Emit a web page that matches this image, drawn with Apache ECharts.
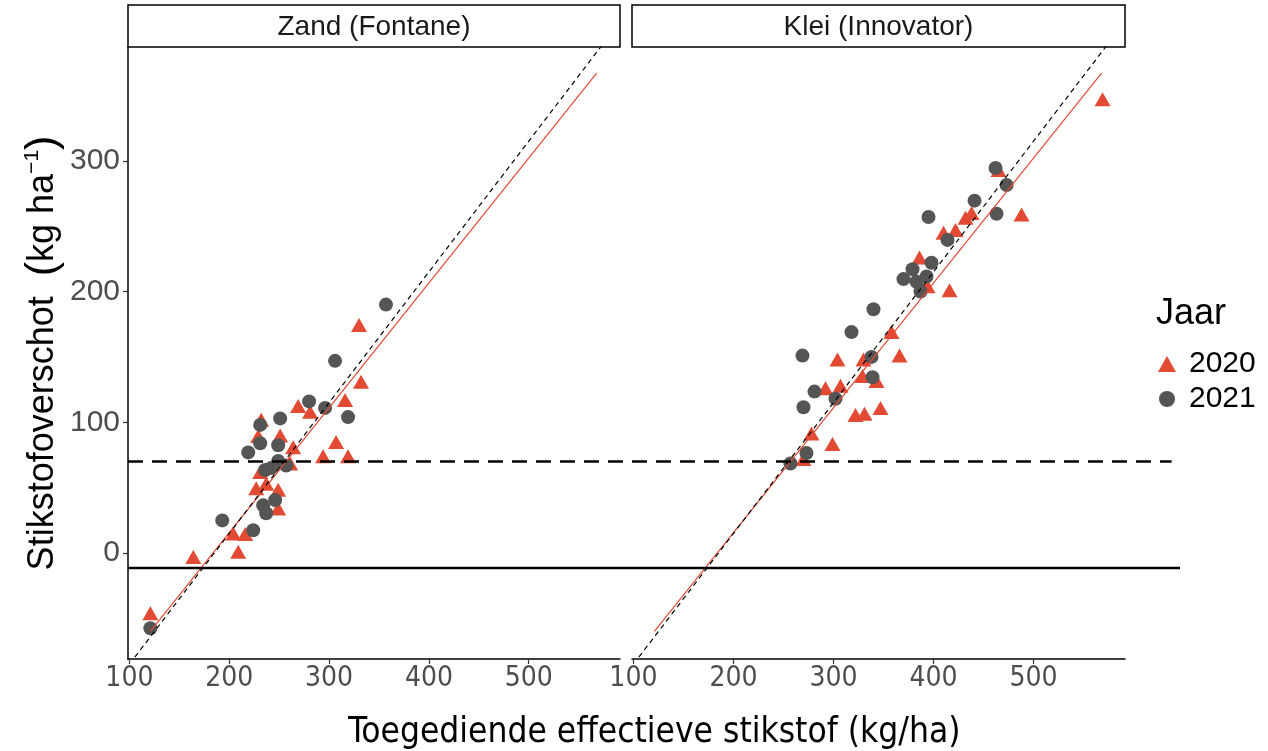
<!DOCTYPE html>
<html>
<head>
<meta charset="utf-8">
<script src="https://cdn.jsdelivr.net/npm/echarts@6/dist/echarts.min.js"></script>
<style>
  html, body { margin: 0; padding: 0; background: #fff; }
  #chart { width: 1268px; height: 751px; }
</style>
</head>
<body>
<div id="chart"></div>
<script>
// stikstofoverschot vs toegediende effectieve stikstof, per grondsoort en jaar

const panels = ['Zand (Fontane)', 'Klei (Innovator)'];
const years = ['2020', '2021'];
const xTicks = [100, 200, 300, 400, 500];
const yTicks = [0, 100, 200, 300];

// [toegediende N, overschot]
const zand2020 = [[121, -46], [164, -3], [209, 1], [204, 15], [216, 14.5], [227, 49.5], [237, 53], [249, 34],
	[249, 48.5], [231, 62], [261, 68.5], [264, 81], [229, 89.5], [251, 90], [232, 102], [269, 112.5],
	[281, 108], [294, 74], [307, 85], [316, 117], [319, 74], [332, 131], [330, 174.5]];
const zand2021 = [[121, -57.5], [193, 25], [224, 17.5], [234, 36.5], [237, 30.5], [246, 40.5], [236, 63.5],
	[242, 65], [249, 70.5], [257, 67], [219, 77], [231, 84], [249, 82.5], [231, 98], [251, 103], [280, 116],
	[296, 111], [306, 147], [319, 104], [357, 190]];
const klei2020 = [[569, 347], [465, 293], [488, 259], [432, 256.5], [438, 260], [410, 245], [422, 247],
	[386, 226], [394, 204], [416, 201], [358, 169], [366, 151], [304, 148], [330, 148], [329, 135.5],
	[343, 131.5], [292, 126], [307, 128], [322, 105.5], [331, 106.5], [347, 111], [278, 91.5], [299, 83.5], [270, 72]];
const klei2021 = [[462, 294.5], [473, 281.5], [441, 269.5], [395, 257], [463, 259.5], [414, 239.5], [398, 222],
	[379, 217], [370, 209.5], [383, 207.5], [393, 211.5], [387, 200], [340, 186.5], [318, 169], [269, 151],
	[338, 150], [339, 134.5], [281, 123.5], [302, 118], [270, 111.5], [273, 76.5], [257, 68.5]];

// regressielijn (rood) en referentielijn (zwart gestreept)
const fitLine = [[121, -59.9], [568, 367]];
const refLine = [[100, -85], [600, 415]];
// horizontale lijnen
const normDashed = 70;
const normSolid = -11.5;

const xRange = [98.6, 591.4];
const yRange = [-81, 387];

const red = '#e34a33';
const grey = '#555555';
const tickGrey = '#4d4d4d';
const sans = '"Liberation Sans", Arial, sans-serif';
const condensed = '"DejaVu Sans Condensed", "DejaVu Sans", sans-serif';

const chart = echarts.init(document.getElementById('chart'));

const xAxisFor = (gridIndex) => ({
	gridIndex: gridIndex,
	type: 'value',
	min: xRange[0],
	max: xRange[1],
	splitLine: { show: false },
	axisLine: { show: true, onZero: false, lineStyle: { color: '#000', width: 1.5 } },
	axisTick: { show: true, length: 5, customValues: xTicks, lineStyle: { color: '#333', width: 1.2 } },
	axisLabel: { customValues: xTicks, color: tickGrey, fontSize: 28, margin: 6, fontFamily: condensed }
});

const yAxisFor = (gridIndex, visible) => ({
	gridIndex: gridIndex,
	type: 'value',
	min: yRange[0],
	max: yRange[1],
	splitLine: { show: false },
	axisLine: { show: visible, onZero: false, lineStyle: { color: '#000', width: 1.5 } },
	axisTick: { show: visible, length: 5, customValues: yTicks, lineStyle: { color: '#333', width: 1.2 } },
	axisLabel: { show: visible, customValues: yTicks, color: tickGrey, fontSize: 30, margin: 8, fontFamily: sans },
	name: visible ? '{a|Stikstofoverschot  }{p|(}{a|kg ha}{s|−1}{p|)}' : '',
	nameLocation: 'middle',
	nameGap: 63,
	nameTextStyle: {
		rich: {
			a: { fontSize: 36, color: '#000', fontFamily: sans },
			p: { fontSize: 43, color: '#000', fontFamily: sans },
			s: { fontSize: 21, color: '#000', fontFamily: sans, verticalAlign: 'top', padding: [0, 0, 16, 0] }
		}
	}
});

const scatter = (name, data, idx, symbol, color, size) => ({
	name: name,
	type: 'scatter',
	xAxisIndex: idx,
	yAxisIndex: idx,
	data: data,
	symbol: symbol,
	symbolSize: size,
	itemStyle: { color: color, opacity: 1 },
	z: 2
});

const line = (data, idx, color, width, dash, z) => ({
	type: 'line',
	xAxisIndex: idx,
	yAxisIndex: idx,
	data: data,
	symbol: 'none',
	silent: true,
	clip: true,
	lineStyle: { color: color, width: width, type: dash },
	z: z
});

const strip = (label, left, width) => ({
	type: 'group',
	children: [
		{ type: 'rect', shape: { x: left, y: 5, width: width, height: 42 }, style: { fill: '#fff', stroke: '#000', lineWidth: 1.5 } },
		{ type: 'text', x: left + width / 2, y: 27, style: {
			text: label, fill: '#1a1a1a', font: '28px ' + sans, align: 'center', verticalAlign: 'middle' } }
	]
});

const option = {
	animation: false,
	backgroundColor: '#fff',
	title: [
		{ text: 'Toegediende effectieve stikstof (kg/ha)', left: 343, top: 710,
			textStyle: { fontSize: 35, fontWeight: 'normal', color: '#000', fontFamily: condensed } },
		{ text: 'Jaar', left: 1151, top: 291,
			textStyle: { fontSize: 36, fontWeight: 'normal', color: '#000', fontFamily: sans } }
	],
	legend: {
		data: [{ name: years[0], icon: 'triangle' }, { name: years[1], icon: 'circle' }],
		orient: 'vertical',
		left: 1153,
		top: 344,
		itemWidth: 18,
		itemHeight: 16,
		itemGap: 5,
		textStyle: { fontSize: 30, color: '#000', fontFamily: sans, padding: [0, 0, 0, 8] }
	},
	grid: [
		{ left: 128, top: 47, width: 492, height: 612 },
		{ left: 632, top: 47, width: 493, height: 612 },
		{ left: 128, top: 47, width: 1052, height: 612 }
	],
	xAxis: [xAxisFor(0), xAxisFor(1), { gridIndex: 2, type: 'value', min: 0, max: 1, show: false }],
	yAxis: [yAxisFor(0, true), yAxisFor(1, false), { gridIndex: 2, type: 'value', min: yRange[0], max: yRange[1], show: false }],
	series: [
		scatter(years[0], zand2020, 0, 'triangle', red, [16, 14]),
		scatter(years[1], zand2021, 0, 'circle', grey, 14),
		scatter(years[0], klei2020, 1, 'triangle', red, [16, 14]),
		scatter(years[1], klei2021, 1, 'circle', grey, 14),
		line(fitLine, 0, red, 1.2, 'solid', 5),
		line(fitLine, 1, red, 1.2, 'solid', 5),
		line(refLine, 0, '#000', 1.2, [5, 4], 6),
		line(refLine, 1, '#000', 1.2, [5, 4], 6),
		line([[0, normDashed], [0.992, normDashed]], 2, '#000', 2.5, [15, 9], 7),
		line([[0, normSolid], [1, normSolid]], 2, '#000', 2.5, 'solid', 7)
	],
	graphic: [strip(panels[0], 128, 492), strip(panels[1], 632, 493)]
};

chart.setOption(option);
</script>
</body>
</html>
